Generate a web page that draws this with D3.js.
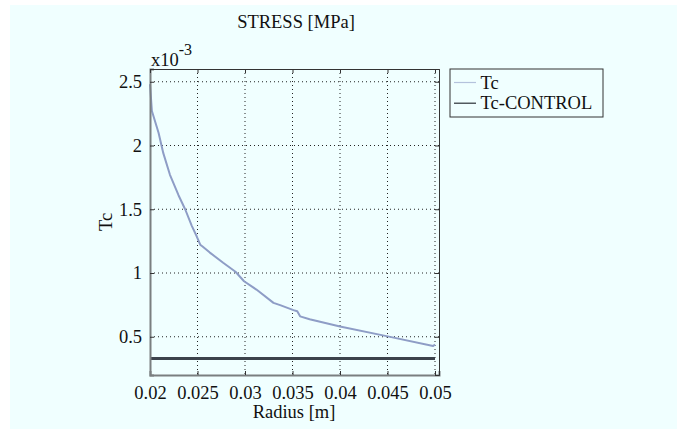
<!DOCTYPE html>
<html>
<head>
<meta charset="utf-8">
<script src="https://cdn.jsdelivr.net/npm/d3@7"></script>
<style>
  body { margin: 0; background: #ffffff; }
  svg text { font-family: "Liberation Serif", "DejaVu Serif", serif; fill: #111; }
</style>
</head>
<body>
<div id="graph"></div>
<script>
// data (Tc in units of 1e-3)
var radius = [0.0200, 0.0202, 0.0209, 0.0214, 0.0221, 0.0230, 0.0237, 0.0244, 0.0249, 0.0253,
              0.0255, 0.0263, 0.0277, 0.0290, 0.0299, 0.0312, 0.0330, 0.0337, 0.0351, 0.0355,
              0.0358, 0.0368, 0.0400, 0.0449, 0.0498, 0.0500];
var tc = [2.48, 2.27, 2.10, 1.94, 1.77, 1.61, 1.50, 1.37, 1.29, 1.22,
          1.21, 1.16, 1.08, 1.01, 0.935, 0.87, 0.766, 0.748, 0.709, 0.700,
          0.66, 0.637, 0.58, 0.505, 0.427, 0.44];
var controlRadius = [0.02, 0.05];
var controlTc = [0.33, 0.33];
var xTicks = [0.02, 0.025, 0.03, 0.035, 0.04, 0.045, 0.05];
var yTicks = [0.5, 1, 1.5, 2, 2.5];
var seriesNames = ["Tc", "Tc-CONTROL"];

var svgWidth = 677, svgHeight = 429;
var margin = { top: 69, left: 150, right: 238, bottom: 54 };
var chartWidth = svgWidth - margin.left - margin.right;
var chartHeight = svgHeight - margin.top - margin.bottom;

var svg = d3.select("#graph").append("svg")
  .attr("width", svgWidth)
  .attr("height", svgHeight);

// figure background (white strip at top/left as in picture)
svg.append("rect").attr("x", 10).attr("y", 5)
  .attr("width", svgWidth - 10).attr("height", svgHeight - 5)
  .attr("fill", "#f0ffff");

var chartGroup = svg.append("g")
  .attr("transform", `translate(${margin.left}, ${margin.top})`);

var xScale = d3.scaleLinear().domain([0.02, 0.05042]).range([0, chartWidth]);
var yScale = d3.scaleLinear().domain([0.2, 2.6]).range([chartHeight, 0]);

// grid
chartGroup.append("g").selectAll("line").data(xTicks.slice(1)).join("line")
  .attr("x1", d => xScale(d)).attr("x2", d => xScale(d))
  .attr("y1", 0).attr("y2", chartHeight)
  .attr("stroke", "#222").attr("stroke-width", 1).attr("stroke-dasharray", "1,3");
chartGroup.append("g").selectAll("line").data(yTicks).join("line")
  .attr("x1", 0).attr("x2", chartWidth)
  .attr("y1", d => yScale(d)).attr("y2", d => yScale(d))
  .attr("stroke", "#222").attr("stroke-width", 1).attr("stroke-dasharray", "1,3");

// lines
var drawLine = d3.line().x(d => xScale(d[0])).y(d => yScale(d[1]));
chartGroup.append("path")
  .attr("d", drawLine(d3.zip(controlRadius, controlTc)))
  .attr("fill", "none").attr("stroke", "#3c434c").attr("stroke-width", 3);
chartGroup.append("path")
  .attr("d", drawLine(d3.zip(radius, tc)))
  .attr("fill", "none").attr("stroke", "#8e9dc6").attr("stroke-width", 2)
  .attr("stroke-linejoin", "round");

// axes
var bottomAxis = d3.axisBottom(xScale).tickValues(xTicks).tickFormat(d3.format("")).tickSize(-4).tickPadding(11);
var leftAxis = d3.axisLeft(yScale).tickValues(yTicks).tickFormat(d3.format("")).tickSize(-4).tickPadding(8);
var topAxis = d3.axisTop(xScale).tickValues(xTicks).tickFormat("").tickSize(-4);
var rightAxis = d3.axisRight(yScale).tickValues(yTicks).tickFormat("").tickSize(-4);

chartGroup.append("g").attr("transform", `translate(0,${chartHeight})`).call(bottomAxis).call(styleAxis, "#7a7f80", 2);
chartGroup.append("g").call(leftAxis).call(styleAxis, "#7a7f80", 2);
chartGroup.append("g").call(topAxis).call(styleAxis, "#333", 1);
chartGroup.append("g").attr("transform", `translate(${chartWidth},0)`).call(rightAxis).call(styleAxis, "#333", 1);

function styleAxis(g, col, w) {
  g.attr("font-family", null).attr("font-size", null);
  g.select(".domain").attr("stroke", col).attr("stroke-width", w);
  g.selectAll(".tick line").attr("stroke", "#333");
  g.selectAll("text").style("font-size", "18.5px").attr("fill", "#111");
}

// labels
svg.append("text").attr("x", 296).attr("y", 28).attr("text-anchor", "middle")
  .style("font-size", "18.5px").text("STRESS [MPa]");
svg.append("text").attr("x", 294).attr("y", 418).attr("text-anchor", "middle")
  .style("font-size", "18.5px").text("Radius [m]");
svg.append("text").attr("transform", "translate(112,222) rotate(-90)").attr("text-anchor", "middle")
  .style("font-size", "18.5px").text("Tc");
var expo = svg.append("text").attr("x", 151).attr("y", 66).style("font-size", "18.5px");
expo.append("tspan").text("x10");
expo.append("tspan").attr("dy", -11).style("font-size", "16px").text("-3");

// legend
var legend = svg.append("g").attr("transform", "translate(450,69)");
legend.append("rect").attr("width", 153).attr("height", 48)
  .attr("fill", "#f0ffff").attr("stroke", "#333").attr("stroke-width", 1);
var legendColors = ["#b4c2dc", "#2a3036"];
seriesNames.forEach(function (name, i) {
  var y = 13.5 + i * 20.7;
  legend.append("line").attr("x1", 4).attr("x2", 26).attr("y1", y).attr("y2", y)
    .attr("stroke", legendColors[i]).attr("stroke-width", 1.2);
  legend.append("text").attr("x", 30.5).attr("y", y + 6).style("font-size", "18.5px").text(name);
});
</script>
</body>
</html>
